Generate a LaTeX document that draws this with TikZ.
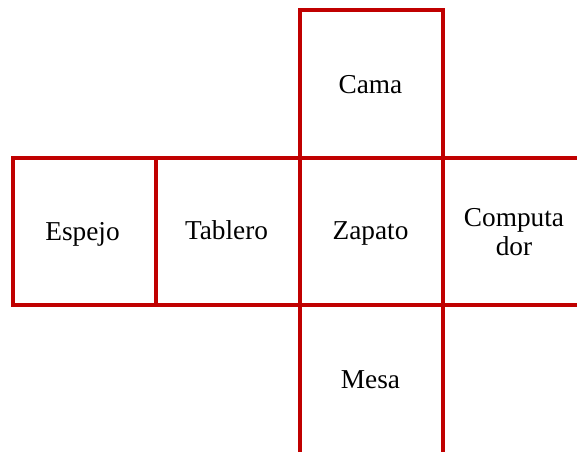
\documentclass[tikz,border=0pt]{standalone}
\usepackage{fontspec}
\setmainfont{Liberation Serif}
\definecolor{boxred}{RGB}{192,0,0}
\tikzset{
  edge/.style={draw=boxred, line width=4pt, line cap=rect},
  lbl/.style={font=\fontsize{27.3}{29}\selectfont, text=black, align=center, inner sep=0pt, anchor=base}
}
\begin{document}
\begin{tikzpicture}[x=1pt,y=-1pt]
\useasboundingbox (0,0) rectangle (577,451);
% top cell
\draw[edge] (300,451) -- (300,10) -- (443,10) -- (443,451);
% middle row
\draw[edge] (577,157.5) -- (13,157.5) -- (13,305) -- (577,305);
\draw[edge] (155.5,157.5) -- (155.5,305);
% labels
\node[lbl] (cama) at (370.5,93) {Cama};
\node[lbl] (espejo) at (82.5,240) {Espejo};
\node[lbl] (tablero) at (226.5,239.5) {Tablero};
\node[lbl] (zapato) at (370.5,239.5) {Zapato};
\node[lbl] (comp) at (514,255) {Computa\\dor};
\node[lbl] (mesa) at (370.5,388) {Mesa};
\end{tikzpicture}
\end{document}
